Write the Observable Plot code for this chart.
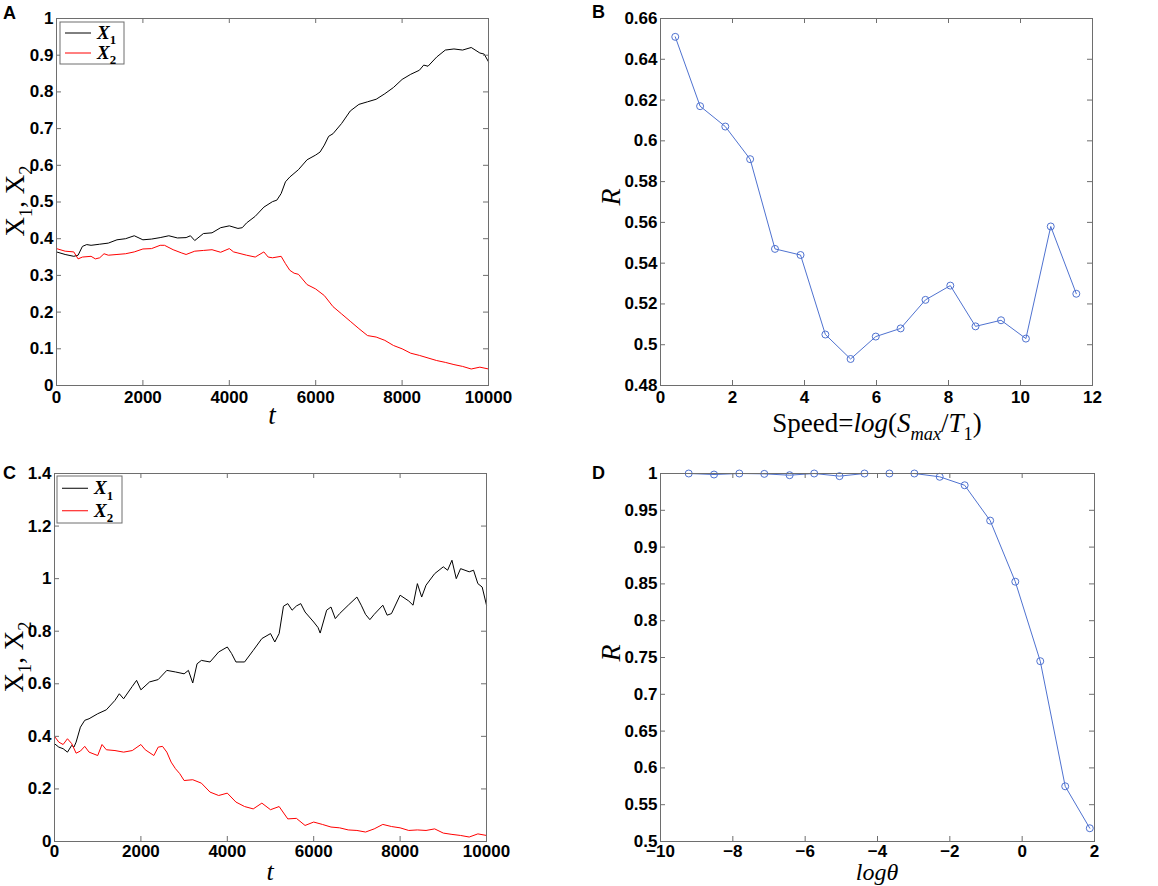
<!DOCTYPE html>
<html>
<head>
<meta charset="utf-8">
<script src="https://cdn.jsdelivr.net/npm/d3@7"></script>
<script src="https://cdn.jsdelivr.net/npm/@observablehq/plot@0.6"></script>
<style>
  body { margin: 0; background: white; }
  #wrap { position: relative; width: 1158px; height: 886px; overflow: hidden; background: white; }
  #wrap svg { position: absolute; }
</style>
</head>
<body>
<div id="wrap"></div>
<script>
// ---------------- DATA ----------------
// Panel A: time series [t, value]
const A_X1 = [[0,.364],[200,.357],[400,.352],[500,.355],[600,.379],[700,.384],[800,.382],[1000,.385],[1200,.388],[1400,.397],[1600,.400],[1800,.408],[2000,.397],[2200,.399],[2400,.403],[2600,.408],[2800,.402],[3000,.403],[3100,.408],[3200,.395],[3400,.414],[3600,.416],[3800,.430],[4000,.435],[4200,.428],[4300,.430],[4400,.443],[4600,.461],[4800,.486],[5000,.501],[5100,.505],[5200,.523],[5300,.555],[5400,.568],[5600,.588],[5800,.615],[6000,.628],[6100,.636],[6200,.655],[6300,.679],[6400,.686],[6600,.714],[6800,.748],[7000,.766],[7200,.773],[7400,.780],[7600,.795],[7800,.812],[8000,.834],[8200,.848],[8400,.859],[8500,.873],[8600,.870],[8800,.895],[9000,.914],[9200,.917],[9400,.914],[9600,.921],[9800,.906],[9900,.903],[10000,.882]];
const A_X2 = [[0,.373],[200,.366],[400,.364],[500,.345],[600,.350],[800,.352],[900,.345],[1000,.348],[1100,.359],[1200,.355],[1400,.357],[1600,.359],[1800,.364],[2000,.372],[2200,.373],[2400,.382],[2500,.382],[2700,.370],[2900,.361],[3000,.357],[3200,.366],[3400,.368],[3600,.370],[3800,.363],[4000,.373],[4100,.364],[4200,.361],[4400,.355],[4600,.350],[4800,.364],[4900,.350],[5000,.348],[5200,.352],[5300,.332],[5400,.314],[5500,.306],[5600,.303],[5800,.275],[6000,.263],[6200,.245],[6400,.215],[6600,.195],[6800,.175],[7000,.155],[7200,.136],[7400,.132],[7600,.123],[7800,.109],[8000,.100],[8200,.088],[8400,.082],[8600,.075],[8800,.068],[9000,.063],[9200,.057],[9400,.052],[9600,.045],[9800,.050],[10000,.045]];

// Panel B
const B_speed = [0.41,1.10,1.80,2.49,3.18,3.89,4.58,5.28,5.98,6.67,7.36,8.05,8.75,9.46,10.15,10.84,11.55];
const B_R = [0.651,0.617,0.607,0.591,0.547,0.544,0.505,0.493,0.504,0.508,0.522,0.529,0.509,0.512,0.503,0.558,0.525];

// Panel C: time series [t, value]
const C_X1 = [[0,.372],[100,.359],[200,.353],[300,.340],[400,.366],[450,.359],[500,.378],[600,.435],[700,.461],[800,.467],[1000,.486],[1200,.501],[1400,.537],[1500,.562],[1600,.543],[1800,.590],[1900,.613],[2000,.577],[2200,.607],[2400,.616],[2600,.651],[2800,.645],[3000,.638],[3100,.651],[3200,.603],[3300,.676],[3400,.689],[3600,.683],[3800,.721],[4000,.740],[4100,.715],[4200,.683],[4400,.683],[4600,.727],[4800,.772],[5000,.791],[5100,.759],[5200,.791],[5300,.895],[5400,.905],[5500,.880],[5600,.896],[5700,.905],[5800,.873],[6000,.835],[6100,.814],[6150,.793],[6300,.880],[6400,.892],[6500,.848],[6600,.867],[6800,.899],[7000,.930],[7100,.899],[7200,.864],[7300,.844],[7400,.864],[7600,.899],[7700,.861],[7800,.867],[8000,.937],[8200,.915],[8300,.899],[8400,.981],[8500,.930],[8600,.975],[8800,1.019],[9000,1.045],[9100,1.032],[9200,1.070],[9300,1.000],[9400,1.038],[9600,1.026],[9700,1.032],[9800,.981],[9900,.968],[10000,.899]];
const C_X2 = [[0,.400],[100,.378],[200,.369],[300,.391],[400,.372],[500,.336],[600,.344],[700,.362],[800,.340],[1000,.327],[1100,.369],[1200,.349],[1400,.346],[1600,.340],[1800,.346],[2000,.369],[2100,.349],[2300,.327],[2400,.359],[2500,.362],[2600,.340],[2700,.302],[2800,.277],[2900,.258],[3000,.232],[3200,.235],[3400,.222],[3600,.188],[3800,.175],[4000,.184],[4200,.150],[4400,.133],[4600,.124],[4800,.146],[5000,.121],[5200,.133],[5400,.086],[5600,.088],[5800,.061],[6000,.074],[6200,.065],[6400,.055],[6600,.052],[6800,.044],[7000,.042],[7200,.036],[7400,.048],[7600,.065],[7800,.057],[8000,.052],[8200,.042],[8400,.044],[8600,.042],[8800,.048],[9000,.032],[9200,.027],[9400,.023],[9600,.017],[9800,.029],[10000,.023]];

// Panel D
const D_logTheta = [-9.22,-8.52,-7.82,-7.13,-6.43,-5.75,-5.05,-4.36,-3.67,-2.98,-2.28,-1.59,-0.885,-0.19,0.50,1.19,1.87];
const D_R = [1.000,0.9986,1.000,0.9995,0.9977,1.000,0.9964,1.000,1.000,1.000,0.9955,0.984,0.936,0.853,0.745,0.575,0.518];

// Tick values
const ticksT = [0,2000,4000,6000,8000,10000];
const ticksA_y = [0,0.1,0.2,0.3,0.4,0.5,0.6,0.7,0.8,0.9,1];
const ticksB_x = [0,2,4,6,8,10,12];
const ticksB_y = [0.48,0.5,0.52,0.54,0.56,0.58,0.6,0.62,0.64,0.66];
const ticksC_y = [0,0.2,0.4,0.6,0.8,1,1.2,1.4];
const ticksD_x = [-10,-8,-6,-4,-2,0,2];
const ticksD_y = [0.5,0.55,0.6,0.65,0.7,0.75,0.8,0.85,0.9,0.95,1];

// ---------------- HELPERS ----------------
const fmt = d3.format("~g");
const FRAME = "#6e6e6e";
const BLUE = "#4f72d0";
const SANS = "Liberation Sans, Arial, sans-serif";
const SERIF = "Liberation Serif, Times New Roman, serif";

function panel({left, top, width, height, mL, mR, mT, mB, xDomain, yDomain, xTicks, yTicks, marks, xPad = 5}) {
  const innerW = width - mL - mR, innerH = height - mT - mB;
  const svg = Plot.plot({
    width, height,
    marginLeft: mL, marginRight: mR, marginTop: mT, marginBottom: mB,
    style: {fontFamily: SANS, fontSize: "17px", fontWeight: "bold", background: "white", color: "black", overflow: "visible"},
    x: {domain: xDomain},
    y: {domain: yDomain},
    marks: [
      ...marks,
      Plot.frame({stroke: FRAME, strokeWidth: 1}),
      Plot.tickX(xTicks, {x: d => d, insetTop: innerH - 5, stroke: FRAME}),
      Plot.tickX(xTicks, {x: d => d, insetBottom: innerH - 5, stroke: FRAME}),
      Plot.tickY(yTicks, {y: d => d, insetRight: innerW - 5, stroke: FRAME}),
      Plot.tickY(yTicks, {y: d => d, insetLeft: innerW - 5, stroke: FRAME}),
      Plot.axisX({ticks: xTicks, tickFormat: fmt, tickSize: 0, tickPadding: xPad, label: null, fontWeight: "bold", fill: "black"}),
      Plot.axisY({ticks: yTicks, tickFormat: fmt, tickSize: 0, tickPadding: 3, label: null, fontWeight: "bold", fill: "black"})
    ]
  });
  svg.style.left = left + "px";
  svg.style.top = top + "px";
  document.getElementById("wrap").appendChild(svg);
  return svg;
}

function addText(svg, x, y, parts, {size = 26, family = SERIF, anchor = "middle", rotate = 0, weight = "normal"} = {}) {
  const t = d3.select(svg).append("text")
    .attr("font-family", family).attr("font-size", size).attr("font-weight", weight)
    .attr("text-anchor", anchor).attr("fill", "black")
    .attr("transform", `translate(${x},${y}) rotate(${rotate})`);
  let shift = 0;
  for (const p of parts) {
    const ts = t.append("tspan").text(p.t);
    if (p.italic) ts.attr("font-style", "italic");
    const want = p.sub ? size * 0.28 : 0;
    if (want !== shift) { ts.attr("dy", want - shift); shift = want; }
    if (p.sub) ts.attr("font-size", size * 0.68);
  }
  return t;
}

function legend(svg, x0, y0, w, h, rows) {
  const g = d3.select(svg).append("g");
  g.append("rect").attr("x", x0).attr("y", y0).attr("width", w).attr("height", h)
    .attr("fill", "white").attr("stroke", FRAME).attr("stroke-width", 1);
  const step = (h - 2) / rows.length;
  rows.forEach((r, i) => {
    const yy = y0 + 1 + step * (i + 0.5);
    g.append("line").attr("x1", x0 + 5).attr("x2", x0 + 31).attr("y1", yy).attr("y2", yy)
      .attr("stroke", r.color).attr("stroke-width", 1);
    addText(svg, x0 + 37, yy + 6, [{t: "X", italic: true}, {t: r.sub, sub: true}], {size: 19, anchor: "start", weight: "bold"});
  });
}

// ---------------- PANEL A ----------------
const svgA = panel({
  left: 0, top: 0, width: 579, height: 440, mL: 56, mR: 91, mT: 18, mB: 55,
  xDomain: [0, 10000], yDomain: [0, 1], xTicks: ticksT, yTicks: ticksA_y,
  marks: [
    Plot.line(A_X1, {x: d => d[0], y: d => d[1], stroke: "black", strokeWidth: 1}),
    Plot.line(A_X2, {x: d => d[0], y: d => d[1], stroke: "#ff0000", strokeWidth: 1})
  ]
});
legend(svgA, 60, 22, 64, 42, [{color: "black", sub: "1"}, {color: "#ff0000", sub: "2"}]);
addText(svgA, 24, 201, [{t: "X"}, {t: "1", sub: true}, {t: ", X"}, {t: "2", sub: true}], {size: 27, rotate: -90});
addText(svgA, 272, 424, [{t: "t", italic: true}], {size: 27});
addText(svgA, 3, 19, [{t: "A"}], {size: 18, family: SANS, anchor: "start", weight: "bold"});

// ---------------- PANEL B ----------------
const B_data = B_speed.map((s, i) => ({s, r: B_R[i]}));
const svgB = panel({
  left: 579, top: 0, width: 579, height: 440, mL: 81, mR: 66, mT: 18, mB: 55,
  xDomain: [0, 12], yDomain: [0.48, 0.66], xTicks: ticksB_x, yTicks: ticksB_y,
  marks: [
    Plot.line(B_data, {x: "s", y: "r", stroke: BLUE, strokeWidth: 1}),
    Plot.dot(B_data, {x: "s", y: "r", r: 3.5, stroke: BLUE, strokeWidth: 1, fill: "none"})
  ]
});
addText(svgB, 41, 197, [{t: "R", italic: true}], {size: 28, rotate: -90});
addText(svgB, 298, 432, [{t: "Speed="}, {t: "log", italic: true}, {t: "("}, {t: "S", italic: true}, {t: "max", italic: true, sub: true}, {t: "/"}, {t: "T", italic: true}, {t: "1", sub: true}, {t: ")"}], {size: 27});
addText(svgB, 13, 18, [{t: "B"}], {size: 18, family: SANS, anchor: "start", weight: "bold"});

// ---------------- PANEL C ----------------
const svgC = panel({
  left: 0, top: 440, width: 579, height: 446, mL: 54, mR: 93, mT: 33, mB: 45,
  xDomain: [0, 10000], yDomain: [0, 1.4], xTicks: ticksT, yTicks: ticksC_y, xPad: 3,
  marks: [
    Plot.line(C_X1, {x: d => d[0], y: d => d[1], stroke: "black", strokeWidth: 1}),
    Plot.line(C_X2, {x: d => d[0], y: d => d[1], stroke: "#ff0000", strokeWidth: 1})
  ]
});
legend(svgC, 57, 36, 65, 47, [{color: "black", sub: "1"}, {color: "#ff0000", sub: "2"}]);
addText(svgC, 23, 217, [{t: "X"}, {t: "1", sub: true}, {t: ", X"}, {t: "2", sub: true}], {size: 27, rotate: -90});
addText(svgC, 270, 440, [{t: "t", italic: true}], {size: 26});
addText(svgC, 3, 39, [{t: "C"}], {size: 18, family: SANS, anchor: "start", weight: "bold"});

// ---------------- PANEL D ----------------
const D_data = D_logTheta.map((l, i) => ({l, r: D_R[i]}));
const svgD = panel({
  left: 579, top: 440, width: 579, height: 446, mL: 81, mR: 64, mT: 33, mB: 45,
  xDomain: [-10, 2], yDomain: [0.5, 1], xTicks: ticksD_x, yTicks: ticksD_y, xPad: 3,
  marks: [
    Plot.line(D_data, {x: "l", y: "r", stroke: BLUE, strokeWidth: 1}),
    Plot.dot(D_data, {x: "l", y: "r", r: 3.5, stroke: BLUE, strokeWidth: 1, fill: "none"})
  ]
});
addText(svgD, 41, 213, [{t: "R", italic: true}], {size: 28, rotate: -90});
addText(svgD, 298, 440, [{t: "logθ", italic: true}], {size: 24});
addText(svgD, 13, 39, [{t: "D"}], {size: 18, family: SANS, anchor: "start", weight: "bold"});
</script>
</body>
</html>
